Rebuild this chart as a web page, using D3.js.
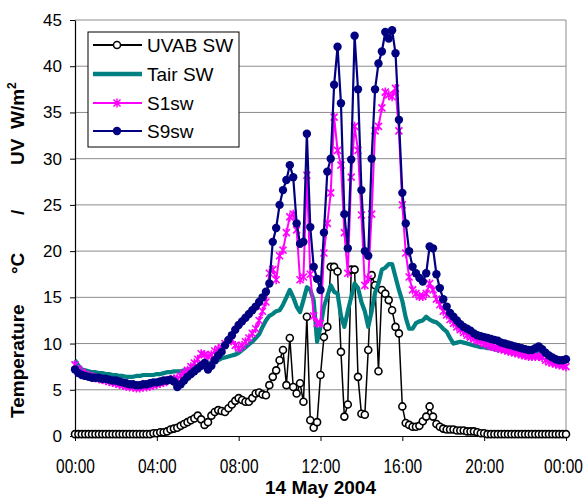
<!DOCTYPE html>
<html lang="en">
<head>
<meta charset="UTF-8">
<title>UVAB SW / Tair SW / S1sw / S9sw - 14 May 2004</title>
<script src="https://cdnjs.cloudflare.com/ajax/libs/d3/7.8.5/d3.min.js"></script>
<style>
    body { margin: 0; background: #ffffff; }
    svg { display: block; font-family: "Liberation Sans", Arial, sans-serif; }
</style>
</head>
<body>
<svg id="chart" width="585" height="498"></svg>
<script>
// readings every 10 minutes, 00:00 to 24:00 (one row per hour)
var stepMinutes = 10;

var uvab = [
    0.2, 0.2, 0.2, 0.2, 0.2, 0.2,
    0.2, 0.2, 0.2, 0.2, 0.2, 0.2,
    0.2, 0.2, 0.2, 0.2, 0.2, 0.2,
    0.2, 0.2, 0.2, 0.2, 0.2, 0.3,
    0.3, 0.4, 0.4, 0.5, 0.7, 0.8,
    0.9, 1.1, 1.3, 1.5, 1.7, 1.9,
    2.2, 1.8, 1.2, 1.5, 2.2, 2.6,
    2.8, 2.7, 2.6, 3.0, 3.4, 3.8,
    4.1, 3.9, 3.7, 3.7, 4.1, 4.6,
    4.7, 4.5, 4.4, 5.5, 6.4, 7.1,
    8.2, 9.3, 5.5, 10.6, 5.3, 4.6,
    5.7, 3.7, 12.9, 1.7, 0.9, 1.5,
    6.6, 10.7, 11.8, 18.3, 18.3, 17.8,
    9.1, 2.1, 3.4, 18.0, 18.0, 6.4,
    2.4, 2.3, 9.3, 17.4, 16.3, 7.0,
    15.8, 15.4, 14.7, 13.6, 11.8, 11.1,
    3.2, 1.4, 1.2, 1.0, 1.0, 1.1,
    1.6, 2.1, 3.2, 2.1, 1.3, 1.0,
    0.8, 0.7, 0.7, 0.7, 0.6, 0.6,
    0.6, 0.5, 0.5, 0.5, 0.4, 0.3,
    0.3, 0.2, 0.2, 0.2, 0.2, 0.2,
    0.2, 0.2, 0.2, 0.2, 0.2, 0.2,
    0.2, 0.2, 0.2, 0.2, 0.2, 0.2,
    0.2, 0.2, 0.2, 0.2, 0.2, 0.2,
    0.2
];

var tair = [
    8.2, 7.6, 7.2, 7.1, 7.0, 6.9,
    6.9, 6.8, 6.8, 6.7, 6.7, 6.6,
    6.6, 6.5, 6.5, 6.4, 6.4, 6.4,
    6.5, 6.5, 6.6, 6.6, 6.6, 6.6,
    6.7, 6.7, 6.8, 6.9, 6.9, 7.0,
    7.0, 7.0, 7.1, 7.2, 7.3, 7.4,
    7.5, 7.6, 7.7, 7.8, 8.0, 8.1,
    8.2, 8.4, 8.5, 8.6, 8.7, 8.8,
    9.0, 9.3, 9.6, 9.9, 10.2, 10.6,
    11.0, 11.8, 12.5, 13.0, 13.2, 13.5,
    13.6, 14.2, 15.0, 15.8, 15.0, 14.0,
    13.4, 14.7, 16.1, 15.8, 14.7, 10.2,
    11.8, 14.0, 15.1, 16.3, 15.6, 15.4,
    13.0, 11.8, 13.5, 15.0, 16.5, 16.0,
    14.5, 13.5, 11.8, 13.5, 15.5, 16.5,
    18.0, 18.2, 18.6, 18.6, 17.2, 15.8,
    14.6, 12.8, 11.6, 11.6, 12.2, 12.4,
    12.5, 12.9, 12.6, 12.4, 12.3, 12.0,
    11.6, 11.3, 10.6, 10.0, 10.1, 10.2,
    10.1, 10.0, 9.9, 9.8, 9.7, 9.6,
    9.6, 9.5, 9.5, 9.4, 9.3, 9.3,
    9.2, 9.1, 9.0, 8.9, 8.9, 8.8,
    8.8, 8.8, 8.8, 8.9, 9.2, 9.0,
    8.8, 8.6, 8.5, 8.4, 8.3, 8.2,
    8.2
];

var s1 = [
    7.7, 7.2, 6.9, 6.7, 6.5, 6.4,
    6.3, 6.2, 6.1, 6.0, 5.9, 5.8,
    5.7, 5.6, 5.5, 5.4, 5.3, 5.3,
    5.2, 5.2, 5.3, 5.3, 5.4, 5.5,
    5.6, 5.7, 5.8, 6.0, 6.1, 6.2,
    6.2, 6.5, 6.8, 7.1, 7.5, 7.9,
    8.3, 8.9, 8.8, 8.6, 8.8, 9.2,
    9.4, 9.6, 10.0, 10.2, 10.4, 9.8,
    9.5, 9.8, 10.2, 10.6, 11.1, 11.6,
    12.5, 13.5, 14.5, 17.6, 18.0, 16.9,
    19.5, 20.1, 22.0, 23.7, 24.0, 22.3,
    16.9, 17.2, 28.2, 17.5, 13.0, 12.2,
    12.2, 19.8, 23.0, 26.3, 34.5, 30.9,
    29.3, 22.0, 17.6, 28.0, 33.5, 30.9,
    23.9, 16.3, 17.0, 24.0, 33.0, 33.5,
    35.5, 37.2, 36.9, 36.7, 37.6, 33.0,
    25.0, 19.8, 17.2, 15.8, 15.4, 15.1,
    15.1, 15.4, 16.5, 15.8, 14.8, 14.2,
    13.5, 13.1, 12.6, 12.2, 11.8, 11.5,
    11.2, 10.9, 10.7, 10.5, 10.3, 10.2,
    10.0, 9.9, 9.7, 9.6, 9.5, 9.4,
    9.3, 9.2, 9.1, 9.0, 8.9, 8.8,
    8.7, 8.6, 8.6, 8.6, 8.6, 8.5,
    8.2, 8.0, 7.9, 7.8, 7.7, 7.6,
    7.5
];

var s9 = [
    7.2, 6.8, 6.6, 6.5, 6.4, 6.3,
    6.3, 6.3, 6.2, 6.2, 6.1, 6.0,
    6.0, 5.9, 5.8, 5.7, 5.6, 5.6,
    5.5, 5.5, 5.6, 5.6, 5.7, 5.8,
    5.8, 5.9, 6.0, 6.0, 6.1, 5.9,
    5.3, 5.6, 6.0, 6.4, 6.7, 7.0,
    7.3, 7.6, 7.9, 7.2, 7.6, 8.2,
    8.7, 9.1, 9.8, 10.4, 10.9, 11.5,
    12.0, 12.4, 12.8, 13.2, 13.6, 14.0,
    14.5, 15.0, 15.6, 16.5, 21.0, 22.5,
    25.0, 26.6, 27.7, 29.3, 28.0, 23.0,
    20.8, 21.0, 32.7, 22.6, 18.3, 17.0,
    15.8, 22.0, 28.6, 30.0, 38.0, 42.1,
    36.0, 24.0, 20.3, 29.9, 43.3, 37.5,
    26.6, 20.0, 19.5, 30.0, 37.5, 40.3,
    41.6, 43.7, 43.0, 43.9, 41.4, 34.2,
    26.3, 23.0, 20.0, 18.3, 17.6, 17.1,
    16.7, 17.6, 20.5, 20.3, 17.5, 16.0,
    14.8, 14.0, 13.3, 12.9, 12.5, 12.1,
    11.8, 11.6, 11.4, 11.1, 10.9, 10.8,
    10.7, 10.6, 10.5, 10.4, 10.3, 10.1,
    10.0, 9.9, 9.8, 9.7, 9.6, 9.5,
    9.4, 9.3, 9.3, 9.5, 9.7, 9.4,
    9.0, 8.7, 8.5, 8.3, 8.2, 8.2,
    8.3
];

var yTicks = [0, 5, 10, 15, 20, 25, 30, 35, 40, 45];
var xTickHours = [0, 4, 8, 12, 16, 20, 24];
var xTickLabels = ["00:00", "04:00", "08:00", "12:00", "16:00", "20:00", "00:00"];
var seriesNames = ["UVAB SW", "Tair SW", "S1sw", "S9sw"];

var svg = d3.select("#chart");

var x = d3.scaleLinear().domain([0, 24]).range([75, 566]);
var y = d3.scaleLinear().domain([0, 45]).range([436, 20]);

function hourOf(i) { return i * stepMinutes / 60; }

// grid lines + frame
svg.append("g").selectAll("line")
    .data(yTicks.filter(function (d) { return d > 0; }))
    .enter().append("line")
    .attr("x1", x(0)).attr("x2", x(24))
    .attr("y1", function (d) { return y(d); })
    .attr("y2", function (d) { return y(d); })
    .attr("stroke", "#8c8c8c").attr("stroke-width", 1);

svg.append("line")
    .attr("x1", x(24)).attr("x2", x(24))
    .attr("y1", y(0)).attr("y2", y(45))
    .attr("stroke", "#8c8c8c").attr("stroke-width", 1);

// axes
var yAxis = svg.append("g")
    .attr("transform", "translate(" + x(0) + ",0)")
    .call(d3.axisLeft(y).tickValues(yTicks).tickSize(5).tickSizeOuter(0).tickPadding(8));
yAxis.selectAll("text").style("font-size", "17px").attr("fill", "#000");

var xAxis = svg.append("g")
    .attr("transform", "translate(0," + y(0) + ")")
    .call(d3.axisBottom(x).tickValues(xTickHours)
        .tickFormat(function (d, i) { return xTickLabels[i]; })
        .tickSize(5).tickSizeOuter(0));
// labels are drawn a little taller than wide, as in the original
xAxis.selectAll("text")
    .attr("dy", null)
    .attr("y", 37 / 1.25)
    .attr("transform", "scale(1,1.25)")
    .style("font-size", "15.5px")
    .attr("fill", "#000");
// keep the last label inside the picture
xAxis.selectAll(".tick:last-of-type text").attr("x", -3);

svg.selectAll(".domain").attr("stroke", "#000").attr("stroke-width", 1.2);
svg.selectAll(".tick line").attr("stroke", "#000");

// series
var line = d3.line()
    .x(function (d, i) { return x(hourOf(i)); })
    .y(function (d) { return y(d); });

var starPath = "M-3.5,-3.5L3.5,3.5M-3.5,3.5L3.5,-3.5M0,-4.5L0,4.5";

var plot = svg.append("g");

// UVAB SW
plot.append("path").datum(uvab).attr("d", line)
    .attr("fill", "none").attr("stroke", "#000").attr("stroke-width", 1.5);
plot.append("g").selectAll("circle").data(uvab).enter().append("circle")
    .attr("cx", function (d, i) { return x(hourOf(i)); })
    .attr("cy", function (d) { return y(d); })
    .attr("r", 3.5)
    .attr("fill", "#fff").attr("stroke", "#000").attr("stroke-width", 1.6);

// Tair SW
plot.append("path").datum(tair).attr("d", line)
    .attr("fill", "none").attr("stroke", "#008080").attr("stroke-width", 4.2)
    .attr("stroke-linejoin", "round");

// S1sw
plot.append("path").datum(s1).attr("d", line)
    .attr("fill", "none").attr("stroke", "#ff00ff").attr("stroke-width", 2);
plot.append("g").selectAll("path").data(s1).enter().append("path")
    .attr("d", starPath)
    .attr("transform", function (d, i) { return "translate(" + x(hourOf(i)) + "," + y(d) + ")"; })
    .attr("fill", "none").attr("stroke", "#ff00ff").attr("stroke-width", 1.6);

// S9sw
plot.append("path").datum(s9).attr("d", line)
    .attr("fill", "none").attr("stroke", "#000080").attr("stroke-width", 2.2);
plot.append("g").selectAll("circle").data(s9).enter().append("circle")
    .attr("cx", function (d, i) { return x(hourOf(i)); })
    .attr("cy", function (d) { return y(d); })
    .attr("r", 4.2)
    .attr("fill", "#000080");

// legend
var legend = svg.append("g");
legend.append("rect")
    .attr("x", 88).attr("y", 32).attr("width", 151).attr("height", 115)
    .attr("fill", "#fff").attr("stroke", "#000").attr("stroke-width", 1);

var rowY = [45, 74, 103, 131];
seriesNames.forEach(function (name, k) {
    var ry = rowY[k];
    var colour = ["#000", "#008080", "#ff00ff", "#000080"][k];
    legend.append("line")
        .attr("x1", 93).attr("x2", 142).attr("y1", ry).attr("y2", ry)
        .attr("stroke", colour).attr("stroke-width", k === 1 ? 4.5 : 2);
    if (k === 0) {
        legend.append("circle").attr("cx", 117).attr("cy", ry).attr("r", 3.5)
            .attr("fill", "#fff").attr("stroke", "#000").attr("stroke-width", 1.5);
    } else if (k === 2) {
        legend.append("path").attr("d", starPath)
            .attr("transform", "translate(117," + ry + ")")
            .attr("fill", "none").attr("stroke", colour).attr("stroke-width", 1.5);
    } else if (k === 3) {
        legend.append("circle").attr("cx", 117).attr("cy", ry).attr("r", 4.2)
            .attr("fill", colour);
    }
    legend.append("text")
        .attr("x", 147).attr("y", ry + 7)
        .style("font-size", "19px")
        .text(name);
});

// axis titles
svg.append("text")
    .attr("x", x(12)).attr("y", 494)
    .attr("text-anchor", "middle")
    .style("font-size", "19px").style("font-weight", "bold")
    .text("14 May 2004");

var yTitle = svg.append("text")
    .attr("transform", "translate(24,418) rotate(-90)")
    .style("font-size", "19px").style("font-weight", "bold");
yTitle.append("tspan").attr("x", 0).text("Temperature");
yTitle.append("tspan").attr("x", 144).text("°C");
yTitle.append("tspan").attr("x", 203).text("/");
yTitle.append("tspan").attr("x", 253).text("UV");
yTitle.append("tspan").attr("x", 289).text("W/m");
yTitle.append("tspan").attr("dy", -8).style("font-size", "12px").text("2");
</script>
</body>
</html>
